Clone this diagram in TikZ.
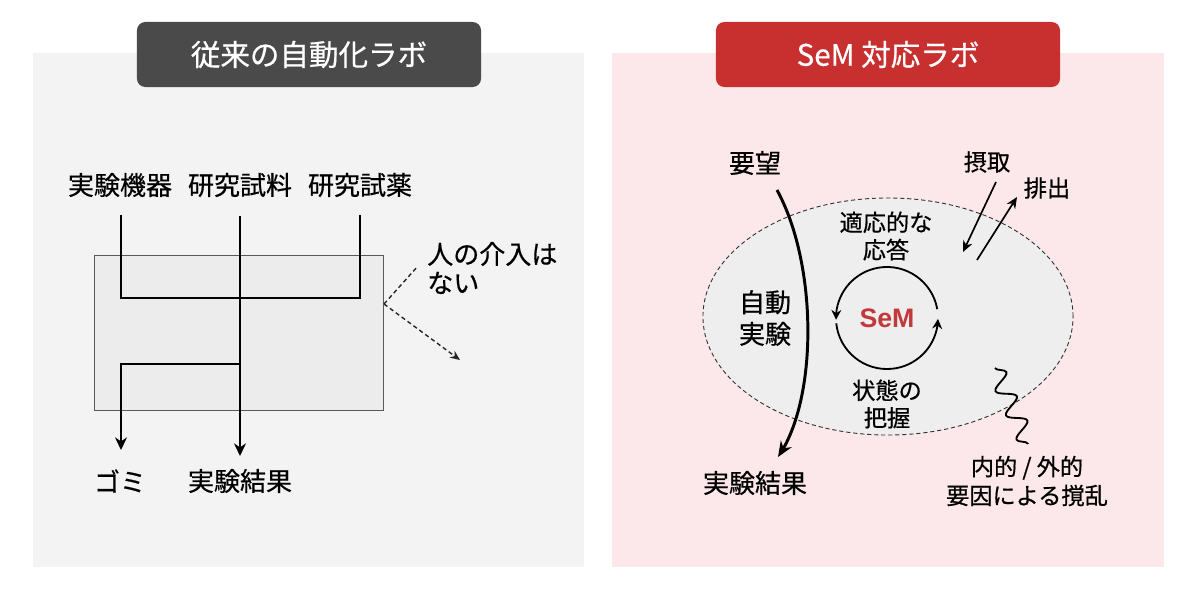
\documentclass[tikz,border=0pt]{standalone}
\usepackage{fontspec}
\setmainfont{Noto Sans CJK JP}[FakeBold=0.6]
\newfontfamily\semfont{Liberation Sans}
\usetikzlibrary{arrows.meta, positioning, shapes.geometric,
    decorations.pathmorphing, bending}

\definecolor{panelgray}{HTML}{F3F3F3}
\definecolor{panelpink}{HTML}{FCE8EA}
\definecolor{boxgray}{HTML}{ECECEC}
\definecolor{cellgray}{HTML}{EEEEEE}
\definecolor{titlegray}{HTML}{4A4A4A}
\definecolor{titlered}{HTML}{C8302F}
\definecolor{semred}{HTML}{C1393B}

\tikzset{
  panel/.style={rectangle, minimum width=13.775cm, minimum height=12.85cm,
                inner sep=0pt},
  titlebox/.style={rectangle, rounded corners=6pt, minimum width=8.6cm,
                   minimum height=1.625cm, text=white,
                   font=\fontsize{21}{25}\selectfont},
  lab/.style={inner sep=0pt, align=center,
              font=\fontsize{18.5}{22.5}\selectfont},
  slab/.style={inner sep=0pt, align=center,
               font=\fontsize{16.5}{19.5}\selectfont},
  flow/.style={line width=1.4pt},
  arr/.style={flow, -{Stealth[length=9pt, width=8.5pt]}},
  hint/.style={line width=1pt, dash pattern=on 3pt off 2.2pt,
               draw=black!85},
  cyc/.style={line width=1.3pt, -{Stealth[length=7pt, width=7pt]}},
  io/.style={line width=1.2pt, -{Stealth[length=8pt, width=7pt]}},
}

\begin{document}
\begin{tikzpicture}[x=0.025cm, y=0.025cm]
  \useasboundingbox (0,0) rectangle (1193,-595);

  % panels and titles
  \node[panel, fill=panelgray] (left) at (308.5,-310) {};
  \node[panel, fill=panelpink] (right) at (888,-310) {};
  \node[titlebox, fill=titlegray] (oldT) at (309,-54.5) {従来の自動化ラボ};
  \node[titlebox, fill=titlered] (semT) at (888,-54.5) {SeM 対応ラボ};

  % conventional lab
  \node[lab] (device) at (120,-185) {実験機器};
  \node[lab] (sample) at (240,-185) {研究試料};
  \node[lab] (reagent) at (360,-185) {研究試薬};
  \node[draw=black!65, line width=0.7pt, fill=boxgray, minimum width=7.2cm,
        minimum height=3.85cm] (robot) at (239,-333) {};
  \node[lab] (waste) at (120,-481) {ゴミ};
  \node[lab] (resultL) at (240,-481) {実験結果};
  \node[lab, align=left, anchor=west, font=\fontsize{18.5}{20.5}\selectfont]
    (nohuman) at (427,-268) {人の介入は\\ない};

  \coordinate (inA) at (121,-215);
  \coordinate (inB) at (240,-216);
  \coordinate (inC) at (360,-215);
  \coordinate (mix) at (240,-298);
  \coordinate (split) at (240,-364);
  \coordinate (outA) at (121,-450);
  \coordinate (outB) at (240,-456);
  \coordinate (edge) at (384,-304);
  \coordinate (noteA) at (418,-266);
  \coordinate (noteB) at (460,-360);

  \draw[flow] (inA) |- (mix) -| (inC);
  \draw[arr] (inB) -- (outB);
  \draw[arr] (split) -| (outA);
  \draw[hint] (edge) -- (noteA);
  \draw[hint, -{Stealth[length=7pt, width=6pt]}] (edge) -- (noteB);

  % SeM lab
  \node[ellipse, draw=black!80, line width=0.65pt, dash pattern=on 3pt off 2pt,
        fill=cellgray, minimum width=9.25cm, minimum height=5.925cm,
        inner sep=0pt] (cell) at (888,-316.5) {};
  \node[lab] (want) at (755,-163) {要望};
  \node[lab] (resultR) at (755,-483) {実験結果};
  \node[lab] (auto) at (765,-318) {自動\\実験};
  \node[slab] (adapt) at (886,-236) {適応的な\\応答};
  \node[slab] (grasp) at (887,-404) {状態の\\把握};
  \node[font=\semfont\bfseries\fontsize{19}{22}\selectfont, text=semred,
        inner sep=0pt] (sem) at (887,-318) {SeM};
  \node[slab] (intake) at (987,-162) {摂取};
  \node[slab] (excrete) at (1047,-188) {排出};
  \node[slab, font=\fontsize{16.5}{20.5}\selectfont] (noise) at (1027,-481)
    {内的 / 外的\\要因による撹乱};

  \coordinate (wantS) at (777,-190);
  \coordinate (resultN) at (778,-457);
  \coordinate (inTop) at (996,-182);
  \coordinate (inEnd) at (963,-252);
  \coordinate (outStart) at (977,-260);
  \coordinate (outEnd) at (1017,-197);
  \coordinate (wavS) at (995,-368);
  \coordinate (wavE) at (1028,-444);

  \draw[line width=2.1pt, -{Stealth[length=11pt, width=9pt]}]
    (wantS) .. controls (818,-265) and (818,-400) .. (resultN);
  \draw[cyc] (sem.center) ++(10:1.275cm)
    arc[start angle=10, end angle=182, radius=1.275cm];
  \draw[cyc] (sem.center) ++(186:1.275cm)
    arc[start angle=186, end angle=359, radius=1.275cm];
  \draw[io] (inTop) -- (inEnd);
  \draw[io] (outStart) -- (outEnd);
  \draw[line width=1.3pt, decorate,
        decoration={snake, segment length=0.66cm, amplitude=0.22cm}]
    (wavS) -- (wavE);

\end{tikzpicture}
\end{document}
